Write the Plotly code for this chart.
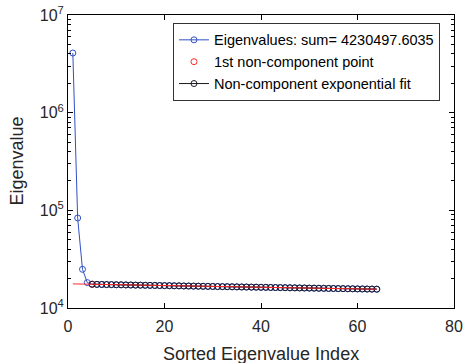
import plotly.graph_objects as go

idx = list(range(1, 65))
eigenvalues = [4080000, 83500, 24900, 18200,
               17520, 17440, 17430, 17370, 17360, 17290, 17280, 17220, 17200, 17150,
               17130, 17080, 17060, 17010, 16990, 16940, 16930, 16870, 16860, 16800,
               16790, 16740, 16720, 16670, 16660, 16610, 16590, 16540, 16530, 16480,
               16460, 16410, 16400, 16350, 16340, 16290, 16280, 16220, 16210, 16160,
               16150, 16100, 16090, 16040, 16030, 15980, 15970, 15920, 15910, 15860,
               15850, 15800, 15790, 15740, 15730, 15680, 15670, 15630, 15620, 15580]
fit_idx = list(range(1, 65))
fit_values = [17650, 17610, 17580, 17540,
              17500, 17450, 17420, 17380, 17350, 17300, 17270, 17230, 17190, 17160,
              17120, 17090, 17050, 17020, 16980, 16950, 16920, 16880, 16850, 16810,
              16780, 16750, 16710, 16680, 16650, 16620, 16580, 16550, 16520, 16490,
              16450, 16420, 16390, 16360, 16330, 16300, 16270, 16230, 16200, 16170,
              16140, 16110, 16080, 16050, 16020, 15990, 15960, 15930, 15900, 15870,
              15840, 15810, 15780, 15750, 15720, 15690, 15660, 15640, 15610, 15580]
first_nc_idx = [5]
first_nc_val = [17500]
nc_idx = fit_idx[4:]
nc_vals = fit_values[4:]

x_ticks = [0, 20, 40, 60, 80]
y_major = [1e4, 1e5, 1e6, 1e7]
y_major_text = ["10<sup>4</sup>", "10<sup>5</sup>", "10<sup>6</sup>", "10<sup>7</sup>"]
y_minor = [m * 10 ** e for e in (4, 5, 6) for m in range(2, 10)]

BLUE = "#3050c8"
RED = "#ff2a2a"
FONT = "Liberation Sans, Arial, sans-serif"
TXT = "#262626"

fig = go.Figure()
fig.add_trace(go.Scatter(
    x=idx, y=eigenvalues, mode="lines+markers",
    name="Eigenvalues: sum= 4230497.6035",
    line=dict(color=BLUE, width=1),
    marker=dict(symbol="circle-open", size=6, color=BLUE, line=dict(width=1)),
))
fig.add_trace(go.Scatter(
    x=first_nc_idx, y=first_nc_val, mode="markers",
    name="1st non-component point",
    marker=dict(symbol="circle-open", size=6, color=RED, line=dict(width=1)),
))
fig.add_trace(go.Scatter(
    x=nc_idx, y=nc_vals, mode="lines+markers",
    name="Non-component exponential fit",
    line=dict(color="#1a1a1a", width=1),
    marker=dict(symbol="circle-open", size=6, color="#1a1a2a", line=dict(width=1)),
))
fig.add_trace(go.Scatter(
    x=fit_idx, y=fit_values, mode="lines",
    line=dict(color=RED, width=1), showlegend=False, hoverinfo="skip",
))

axis_common = dict(
    showline=True, linecolor="black", linewidth=1, mirror="ticks",
    ticks="inside", ticklen=5, tickcolor="black", showgrid=False, zeroline=False,
    tickfont=dict(family=FONT, size=16, color=TXT), automargin=False,
)

fig.update_xaxes(
    range=[0, 80], tickmode="array", tickvals=x_ticks, ticklabelstandoff=4,
    **axis_common,
)
fig.update_yaxes(
    type="log", range=[4, 7], tickmode="array", tickvals=y_major, ticktext=y_major_text,
    minor=dict(tickmode="array", tickvals=y_minor, ticks="inside", ticklen=3, tickcolor="black"),
    **axis_common,
)

fig.add_annotation(
    text="Sorted Eigenvalue Index", xref="paper", yref="paper", x=0.5, y=0,
    xanchor="center", yanchor="middle", yshift=-46, showarrow=False,
    font=dict(family=FONT, size=18, color=TXT),
)
fig.add_annotation(
    text="Eigenvalue", xref="paper", yref="paper", x=0, y=0.5,
    xanchor="center", yanchor="middle", xshift=-52, textangle=-90, showarrow=False,
    font=dict(family=FONT, size=18, color=TXT),
)

fig.update_layout(
    width=463, height=363,
    margin=dict(l=68, r=9, t=15, b=55, autoexpand=False),
    paper_bgcolor="white", plot_bgcolor="white",
    font=dict(family=FONT, size=14, color=TXT),
    legend=dict(
        x=0.272, y=0.973, xanchor="left", yanchor="top",
        bgcolor="white", bordercolor="#333333", borderwidth=1,
        font=dict(family=FONT, size=14.5, color="black"),
        itemwidth=30, tracegroupgap=0,
    ),
    showlegend=True,
)

fig.write_html("out.html", config={"displayModeBar": False},
               post_script="document.body.style.margin='0px';")
